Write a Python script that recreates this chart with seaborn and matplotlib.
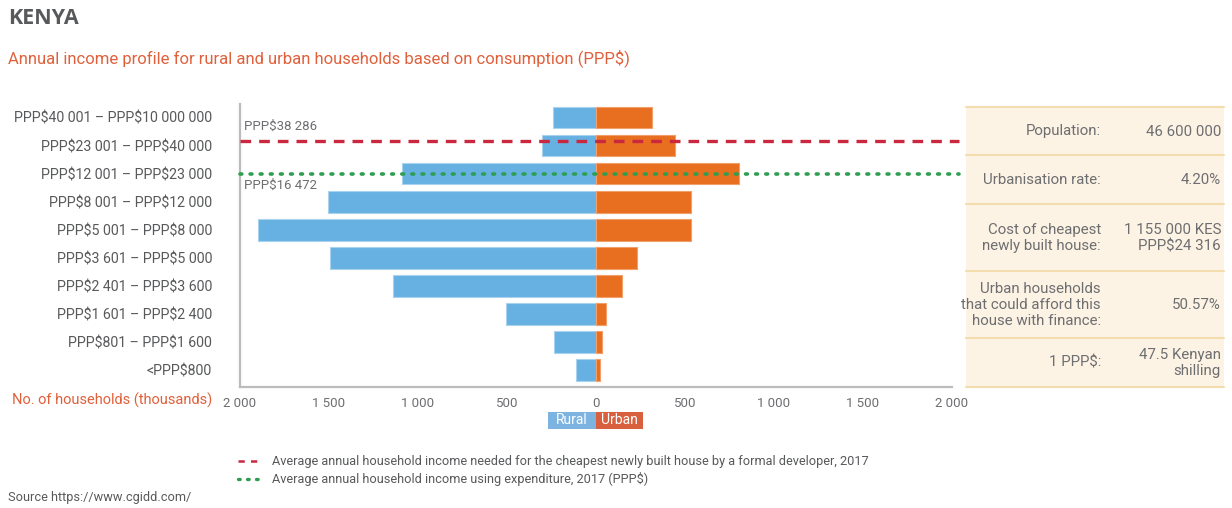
import matplotlib
matplotlib.use("Agg")
import matplotlib.pyplot as plt
import matplotlib.patches as mpatches
import matplotlib.lines as mlines
import numpy as np
import pandas as pd
import seaborn as sns

# ---- data -----------------------------------------------------------------
bands = [
    "PPP$40 001 \u2013 PPP$10 000 000",
    "PPP$23 001 \u2013 PPP$40 000",
    "PPP$12 001 \u2013 PPP$23 000",
    "PPP$8 001 \u2013 PPP$12 000",
    "PPP$5 001 \u2013 PPP$8 000",
    "PPP$3 601 \u2013 PPP$5 000",
    "PPP$2 401 \u2013 PPP$3 600",
    "PPP$1 601 \u2013 PPP$2 400",
    "PPP$801 \u2013 PPP$1 600",
    "<PPP$800",
]
rural = [240, 305, 1092, 1504, 1897, 1494, 1142, 504, 236, 111]
urban = [315, 444, 805, 532, 532, 232, 144, 56, 32, 24]

xticks = [-2000, -1500, -1000, -500, 0, 500, 1000, 1500, 2000]
xtick_labels = ["2 000", "1 500", "1 000", "500", "0", "500", "1 000", "1 500", "2 000"]

house_income_label = "PPP$38 286"
house_income_band = "PPP$23 001 \u2013 PPP$40 000"
avg_income_label = "PPP$16 472"
avg_income_band = "PPP$12 001 \u2013 PPP$23 000"

table_labels = [
    "Population:",
    "Urbanisation rate:",
    "Cost of cheapest\nnewly built house:",
    "Urban households\nthat could afford this\nhouse with finance:",
    "1 PPP$:",
]
table_values = [
    "46 600 000",
    "4.20%",
    "1 155 000 KES\nPPP$24 316",
    "50.57%",
    "47.5 Kenyan\nshilling",
]

legend_texts = [
    "Average annual household income needed for the cheapest newly built house by a formal developer, 2017",
    "Average annual household income using expenditure, 2017 (PPP$)",
]

# ---- style ----------------------------------------------------------------
sns.set_theme(style="white")
NARROW = ["Liberation Sans Narrow", "Roboto", "DejaVu Sans"]
plt.rcParams["font.family"] = NARROW
plt.rcParams["text.parse_math"] = False

RURAL_C = "#66b1e2"
URBAN_C = "#e86e20"
RED_C = "#c9283e"
GREEN_C = "#2e9e50"
GRAY_T = "#6d6e71"
TITLE_C = "#e0603b"
AXIS_C = "#bcbcbc"

W, H = 1232, 508
fig = plt.figure(figsize=(W / 100, H / 100), dpi=100)


def fx(x):
    return x / W


def fy(y):
    return 1 - y / H


ax = fig.add_axes([fx(240), fy(387), (952 - 240) / W, (387 - 104) / H])

df = pd.DataFrame({"band": bands, "rural": -np.array(rural), "urban": urban})
sns.barplot(data=df, x="rural", y="band", order=bands, color=RURAL_C,
            saturation=1, width=0.77, edgecolor="#a9d2ef", linewidth=0.8, ax=ax)
sns.barplot(data=df, x="urban", y="band", order=bands, color=URBAN_C,
            saturation=1, width=0.77, edgecolor="#f2a06a", linewidth=0.8, ax=ax)

ax.set_xlim(-2000, 2000)
ax.set_ylim(9.6, -0.48)
ax.set_xlabel("")
ax.set_ylabel("")

# reference lines for income thresholds
y_red = bands.index(house_income_band) - 0.17
y_green = bands.index(avg_income_band)
ax.plot([-2000, 2040], [y_red, y_red], color=RED_C, lw=2.4,
        dashes=(3.2, 2.4), clip_on=False, zorder=5)
ax.plot([-2000, 2040], [y_green, y_green], color=GREEN_C, lw=2.6,
        linestyle=(0, (0.5, 2.3)), dash_capstyle="round", clip_on=False, zorder=5)
ax.text(-1975, y_red - 0.5, house_income_label, color=GRAY_T, fontsize=9.5,
        va="center", ha="left")
ax.text(-1975, y_green + 0.42, avg_income_label, color=GRAY_T, fontsize=9.5,
        va="center", ha="left")

# axes styling
for side in ("top", "right"):
    ax.spines[side].set_visible(False)
for side in ("left", "bottom"):
    ax.spines[side].set_color(AXIS_C)
    ax.spines[side].set_linewidth(1.6)
ax.set_xticks(xticks)
ax.set_xticklabels(xtick_labels)
ax.tick_params(axis="x", length=0, pad=7, labelsize=9.5, labelcolor=GRAY_T)
ax.tick_params(axis="y", length=0, pad=20, labelsize=10.2, labelcolor="#58595b")

# titles
fig.text(fx(8), fy(18), "KENYA", fontsize=15.5, fontweight="bold", color="#58595b",
         family=["Open Sans", "Lato", "DejaVu Sans"], va="center", ha="left")
fig.text(fx(8), fy(58), "Annual income profile for rural and urban households based on consumption (PPP$)",
         fontsize=12, color=TITLE_C, va="center", ha="left")
fig.text(fx(212), fy(400), "No. of households (thousands)", fontsize=10.5,
         color=TITLE_C, va="center", ha="right")

# Rural / Urban key under the axis
for x0, x1, txt, col in [(548, 596, "Rural", "#7db3e1"), (596, 643, "Urban", "#d9603e")]:
    fig.patches.append(mpatches.Rectangle((fx(x0), fy(429)), (x1 - x0) / W, 17 / H,
                                          transform=fig.transFigure, color=col, lw=0))
    fig.text(fx((x0 + x1) / 2), fy(420.5), txt, color="white", fontsize=10,
             ha="center", va="center")

# info table
fig.patches.append(mpatches.Rectangle((fx(966), fy(387)), (1224 - 966) / W, (387 - 107) / H,
                                      transform=fig.transFigure, color="#fdf3e4", lw=0, zorder=0))
row_lines = [107, 155, 204, 271, 338, 387]
for yl in row_lines:
    fig.lines.append(mlines.Line2D([fx(966), fx(1224)], [fy(yl), fy(yl)],
                                   transform=fig.transFigure, color="#f3dcae", lw=1.5))
for i, (lab, val) in enumerate(zip(table_labels, table_values)):
    yc = (row_lines[i] + row_lines[i + 1]) / 2 + 0.5
    fig.text(fx(1101), fy(yc), lab, ha="right", va="center", fontsize=10.8,
             color=GRAY_T, linespacing=1.2, multialignment="right")
    fig.text(fx(1221), fy(yc), val, ha="right", va="center", fontsize=10.8,
             color=GRAY_T, linespacing=1.2, multialignment="right")

# line legend
fig.lines.append(mlines.Line2D([fx(238), fx(262)], [fy(461), fy(461)], transform=fig.transFigure,
                               color=RED_C, lw=1.8, dashes=(2.5, 2.5)))
fig.lines.append(mlines.Line2D([fx(238), fx(262)], [fy(479), fy(479)], transform=fig.transFigure,
                               color=GREEN_C, lw=2.4, linestyle=(0, (0.5, 2.2)),
                               dash_capstyle="round"))
fig.text(fx(272), fy(461), legend_texts[0], fontsize=9.2, color="#58595b", va="center")
fig.text(fx(272), fy(479), legend_texts[1], fontsize=9.2, color="#58595b", va="center")

fig.text(fx(8), fy(498), "Source https://www.cgidd.com/", fontsize=9.2, color="#58595b", va="center")

fig.savefig("out.png", dpi=100)
